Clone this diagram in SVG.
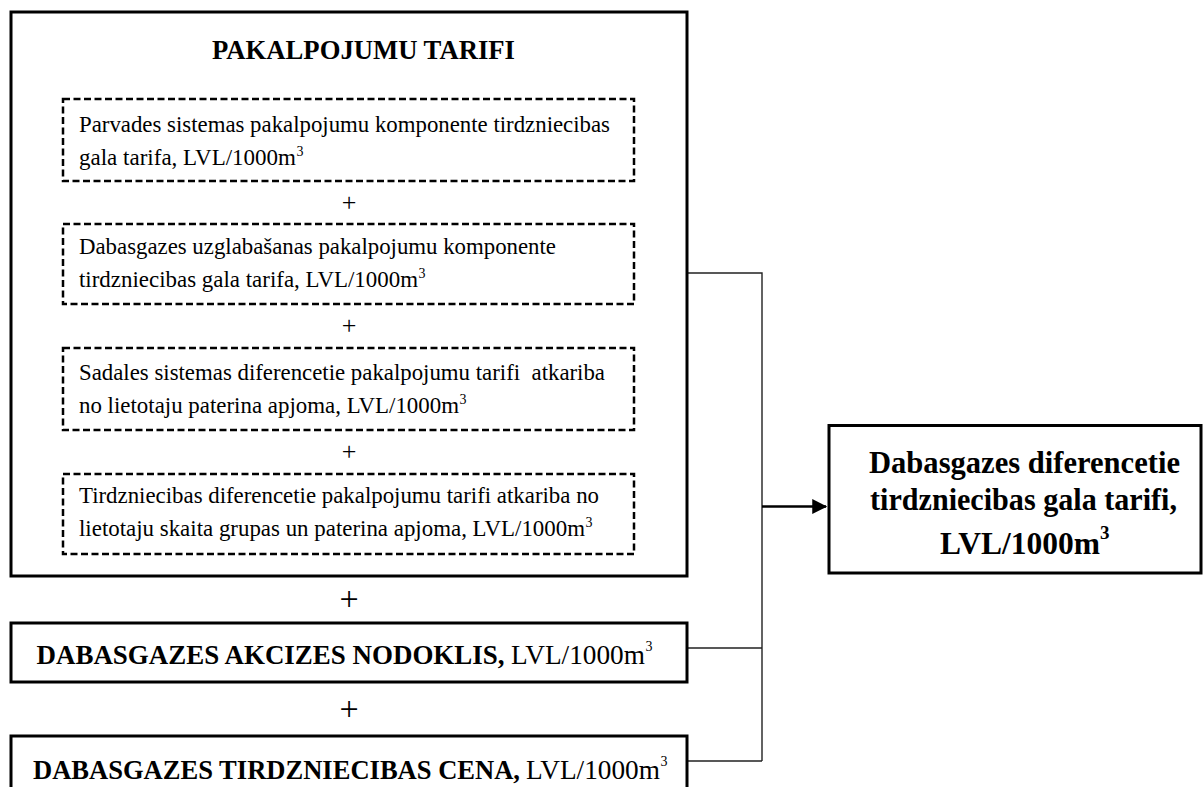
<svg xmlns="http://www.w3.org/2000/svg" width="1203" height="787" viewBox="0 0 1203 787">
<style>
.box{fill:#fff;stroke:#000;stroke-width:3}
.dash{fill:none;stroke:#000;stroke-width:2.5;stroke-dasharray:7 3.5}
.t{font-family:"Liberation Serif","Times New Roman",serif;font-size:23px;fill:#000}
.b{font-family:"Liberation Serif","Times New Roman",serif;font-weight:bold;fill:#000}
.r{font-family:"Liberation Serif","Times New Roman",serif;fill:#000}
.sup{font-family:"Liberation Serif","Times New Roman",serif;font-size:14px;fill:#000}
.plus{font-family:"Liberation Serif","Times New Roman",serif;fill:#000;text-anchor:middle}
.conn{fill:none;stroke:#222;stroke-width:1.4}
</style>
<defs>
<marker id="arr" markerWidth="6" markerHeight="6" refX="5.5" refY="3" orient="auto" markerUnits="strokeWidth">
<path d="M0,0 L6,3 L0,6 Z" fill="#000"/>
</marker>
</defs>
<rect width="1203" height="787" fill="#fff"/>

<g id="connectors">
<path class="conn" d="M688,273 H762 V761 M688,648 H762 M688,761 H762"/>
<line x1="762" y1="506.5" x2="826" y2="506.5" stroke="#000" stroke-width="2.5" marker-end="url(#arr)"/>
</g>

<g id="pakalpojumu-tarifi">
<rect class="box" x="11" y="12" width="676" height="564"/>
<text class="b" x="212" y="59" font-size="27" textLength="303" lengthAdjust="spacingAndGlyphs">PAKALPOJUMU TARIFI</text>
</g>

<g id="parvades">
<rect class="dash" x="63" y="99" width="571" height="82"/>
<text class="t" x="79" y="132" textLength="531" lengthAdjust="spacingAndGlyphs">Parvades sistemas pakalpojumu komponente tirdzniecibas</text>
<text class="t" x="79" y="165" textLength="217" lengthAdjust="spacingAndGlyphs">gala tarifa, LVL/1000m</text>
<text class="sup" x="296.5" y="156">3</text>
</g>
<text class="plus" x="349" y="211" font-size="26">+</text>

<g id="uzglabasanas">
<rect class="dash" x="63" y="224" width="571" height="80"/>
<text class="t" x="79" y="254" textLength="477" lengthAdjust="spacingAndGlyphs">Dabasgazes uzglabašanas pakalpojumu komponente</text>
<text class="t" x="79" y="287" textLength="339" lengthAdjust="spacingAndGlyphs">tirdzniecibas gala tarifa, LVL/1000m</text>
<text class="sup" x="418.5" y="278">3</text>
</g>
<text class="plus" x="349" y="334" font-size="26">+</text>

<g id="sadales">
<rect class="dash" x="63" y="348" width="571" height="82"/>
<text class="t" x="79" y="380" textLength="526" lengthAdjust="spacingAndGlyphs" xml:space="preserve">Sadales sistemas diferencetie pakalpojumu tarifi  atkariba</text>
<text class="t" x="79" y="413" textLength="380" lengthAdjust="spacingAndGlyphs">no lietotaju paterina apjoma, LVL/1000m</text>
<text class="sup" x="459.5" y="404">3</text>
</g>
<text class="plus" x="349" y="460" font-size="26">+</text>

<g id="tirdzniecibas">
<rect class="dash" x="63" y="474" width="571" height="80"/>
<text class="t" x="79" y="503" textLength="520" lengthAdjust="spacingAndGlyphs">Tirdzniecibas diferencetie pakalpojumu tarifi atkariba no</text>
<text class="t" x="79" y="536" textLength="506" lengthAdjust="spacingAndGlyphs">lietotaju skaita grupas un paterina apjoma, LVL/1000m</text>
<text class="sup" x="585.5" y="527">3</text>
</g>

<text class="plus" x="349" y="610" font-size="34">+</text>

<g id="akcizes">
<rect class="box" x="11" y="623" width="676" height="59" stroke-width="3.5"/>
<text class="b" x="36.5" y="664" font-size="27" textLength="468" lengthAdjust="spacingAndGlyphs">DABASGAZES AKCIZES NODOKLIS,</text>
<text class="r" x="511" y="664" font-size="27" textLength="134" lengthAdjust="spacingAndGlyphs">LVL/1000m</text>
<text class="sup" x="645.5" y="651" font-size="16">3</text>
</g>

<text class="plus" x="349" y="720" font-size="34">+</text>

<g id="cena">
<rect class="box" x="11" y="736" width="676" height="70" stroke-width="3.5"/>
<text class="b" x="33" y="779" font-size="27" textLength="487" lengthAdjust="spacingAndGlyphs">DABASGAZES TIRDZNIECIBAS CENA,</text>
<text class="r" x="526" y="779" font-size="27" textLength="134" lengthAdjust="spacingAndGlyphs">LVL/1000m</text>
<text class="sup" x="660.5" y="766" font-size="16">3</text>
</g>

<g id="result">
<rect class="box" x="829" y="425.5" width="372" height="147.5" stroke-width="2.5"/>
<text class="b" x="869" y="473" font-size="31" textLength="311" lengthAdjust="spacingAndGlyphs">Dabasgazes diferencetie</text>
<text class="b" x="870" y="510" font-size="31" textLength="307" lengthAdjust="spacingAndGlyphs">tirdzniecibas gala tarifi,</text>
<text class="b" x="940" y="554" font-size="31" textLength="160" lengthAdjust="spacingAndGlyphs">LVL/1000m</text>
<text class="b" x="1100" y="539" font-size="19">3</text>
</g>
</svg>
